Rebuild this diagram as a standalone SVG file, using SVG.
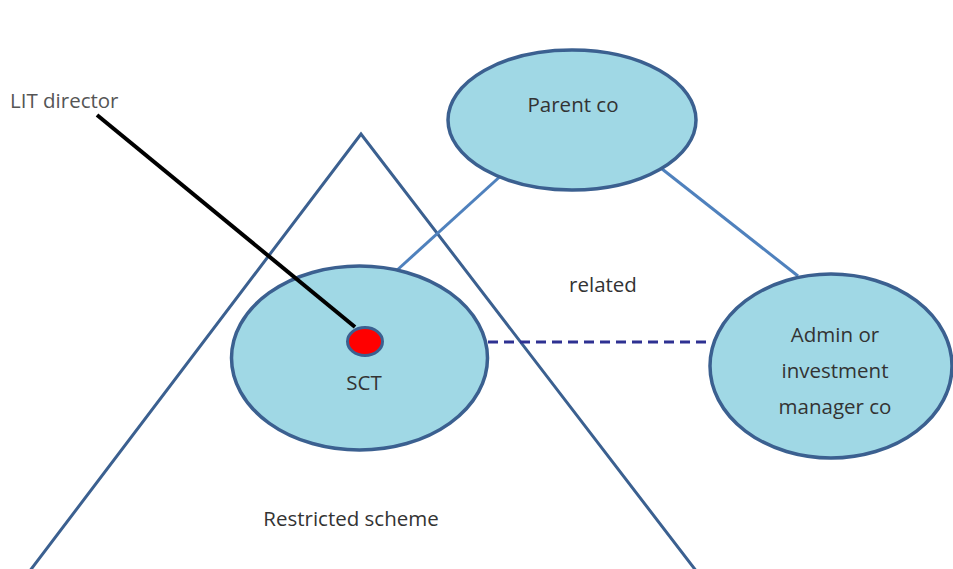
<svg xmlns="http://www.w3.org/2000/svg" width="953" height="569" viewBox="0 0 953 569">
<style>
.node{fill:#a0d8e5;stroke:#3b6090;stroke-width:3.5}
.lbl{font-family:"Open Sans","Liberation Sans",sans-serif;font-size:20.5px;fill:#333;text-anchor:middle}
.tri{fill:none;stroke:#3b6090;stroke-width:3}
.rel{stroke:#4f81bd;stroke-width:3;fill:none}
</style>
<rect width="953" height="569" fill="#fff"/>
<g id="restricted-scheme">
<polyline class="tri" points="29,572 361,134 697,572"/>
<text class="lbl" x="351" y="526">Restricted scheme</text>
</g>
<g id="connectors">
<line class="rel" x1="505" y1="172" x2="395" y2="272"/>
<line class="rel" x1="657" y1="165" x2="798" y2="276"/>
<line x1="488" y1="342" x2="708" y2="342" stroke="#2e3192" stroke-width="3" stroke-dasharray="10,6"/>
<text class="lbl" x="603" y="292">related</text>
</g>
<g id="parent-co">
<ellipse class="node" cx="572" cy="120" rx="124" ry="70"/>
<text class="lbl" x="573" y="112">Parent co</text>
</g>
<g id="admin">
<ellipse class="node" cx="831" cy="366" rx="121" ry="92"/>
<text class="lbl" x="835" y="342">Admin or</text>
<text class="lbl" x="835" y="378">investment</text>
<text class="lbl" x="835" y="414">manager co</text>
</g>
<g id="sct">
<ellipse class="node" cx="359.5" cy="358" rx="128" ry="92"/>
<text class="lbl" x="364" y="390">SCT</text>
</g>
<g id="lit-director">
<text class="lbl" x="10" y="108" style="fill:#555;text-anchor:start">LIT director</text>
<line x1="97" y1="115" x2="355" y2="327" stroke="#000" stroke-width="4"/>
<ellipse cx="365" cy="341.5" rx="17.5" ry="14" fill="#ff0000" stroke="#3b6090" stroke-width="3"/>
</g>
</svg>
